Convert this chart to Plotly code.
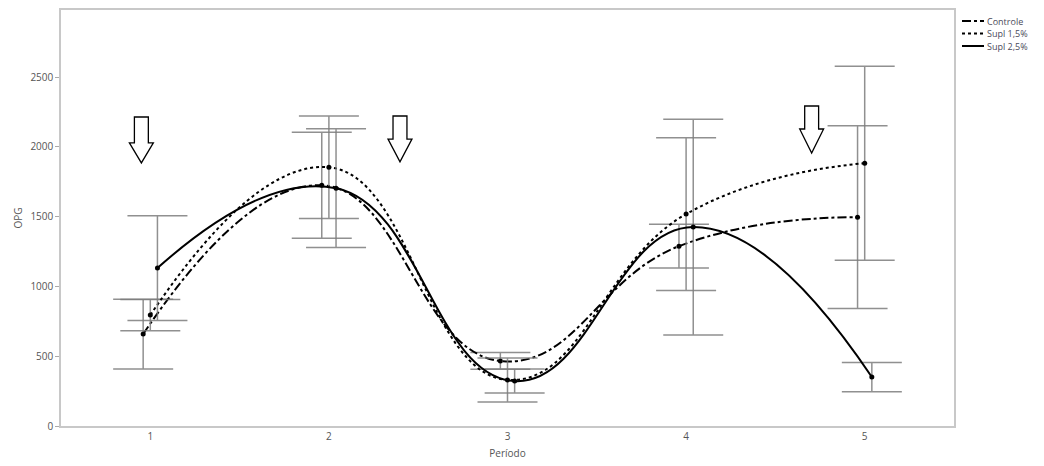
import plotly.graph_objects as go

periods = [1, 2, 3, 4, 5]
series_names = ["Controle", "Supl 1,5%", "Supl 2,5%"]
controle_mean = [659, 1726, 466, 1289, 1497]
controle_err = [250, 380, 60, 157, 655]
supl15_mean = [795, 1855, 330, 1519, 1884]
supl15_err = [112, 368, 158, 548, 695]
supl25_mean = [1132, 1705, 322, 1426, 351]
supl25_err = [375, 425, 86, 773, 105]
y_ticks = [0, 500, 1000, 1500, 2000, 2500]

# arrow annotations (period position, top value, head-start value, tip value)
arrow_x = [0.95, 2.398, 4.703]
arrow_top = [2215, 2222, 2294]
arrow_head = [2029, 2057, 2129]
arrow_tip = [1886, 1893, 1957]

means = [controle_mean, supl15_mean, supl25_mean]
errs = [controle_err, supl15_err, supl25_err]
offsets = [-0.04, 0.0, 0.04]
dashes = ["dashdot", "dot", "solid"]

W, H = 1044, 466
ML, MR, MT, MB = 61, 90, 10, 40
PW, PH = W - ML - MR, H - MT - MB


def px_x(px):
    return (px - ML) / PW


def px_y(py):
    return (H - MB - py) / PH


fig = go.Figure()
for name, m, e, off, d in zip(series_names, means, errs, offsets, dashes):
    xs = [p + off for p in periods]
    fig.add_trace(go.Scatter(
        x=xs, y=m, mode="markers", showlegend=False,
        marker=dict(color="black", size=5),
        error_y=dict(type="data", array=e, visible=True,
                     color="rgba(125,125,125,0.85)", thickness=1.5, width=30),
    ))
    fig.add_trace(go.Scatter(
        x=xs, y=m, mode="lines", name=name, showlegend=False,
        line=dict(color="black", width=2, dash=d, shape="spline", smoothing=1.3),
    ))

shapes = []
sw = 0.039
hw = 0.067
for ax, t, h, tip in zip(arrow_x, arrow_top, arrow_head, arrow_tip):
    path = (f"M {ax-sw},{t} L {ax+sw},{t} L {ax+sw},{h} L {ax+hw},{h} "
            f"L {ax},{tip} L {ax-hw},{h} L {ax-sw},{h} Z")
    shapes.append(dict(type="path", path=path, xref="x", yref="y",
                       line=dict(color="black", width=1.3), fillcolor="white"))

# compact legend (sample line + label)
annotations = []
for i, (name, d) in enumerate(zip(series_names, dashes)):
    yy = px_y(21 + 12.5 * i)
    shapes.append(dict(type="line", xref="paper", yref="paper",
                       x0=px_x(962), x1=px_x(984), y0=yy, y1=yy,
                       line=dict(color="black", width=2, dash=d)))
    annotations.append(dict(text=name, xref="paper", yref="paper",
                            x=px_x(986), y=yy, xanchor="left", yanchor="middle",
                            showarrow=False, borderpad=0,
                            font=dict(size=9, color="#4a4a5a")))

fig.update_layout(
    width=W, height=H,
    margin=dict(l=ML, r=MR, t=MT, b=MB, autoexpand=False),
    paper_bgcolor="white", plot_bgcolor="white",
    font=dict(family="Open Sans, Liberation Sans, sans-serif", size=10, color="#555"),
    shapes=shapes, annotations=annotations, showlegend=False,
    xaxis=dict(range=[0.5, 5.5], tickvals=periods, ticktext=[str(p) for p in periods],
               showgrid=False, zeroline=False, showline=True, linecolor="#c8c8c8",
               linewidth=1.5, mirror=True, ticks="", title=dict(text="Período", standoff=8,
               font=dict(size=10, color="#555"))),
    yaxis=dict(range=[0, 2982], tickvals=y_ticks, showgrid=False, zeroline=False,
               showline=True, linecolor="#c8c8c8", linewidth=1.5, mirror=True,
               ticks="outside", ticklen=4, tickcolor="#aaa",
               title=dict(text="OPG", standoff=6, font=dict(size=10, color="#555"))),
)

fig.write_html("out.html", config={"displayModeBar": False},
               post_script="document.body.style.margin='0px';")
